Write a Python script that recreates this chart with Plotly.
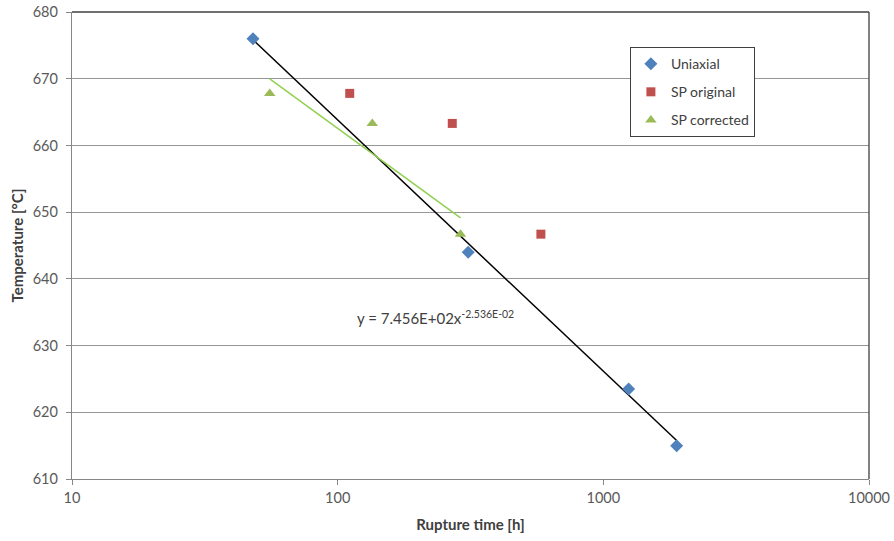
import numpy as np
import plotly.graph_objects as go

# ---- data ----
uni_time = [48, 310, 1245, 1888]
uni_temp = [676, 644, 623.5, 615]
spo_time = [111, 270, 582]
spo_temp = [667.8, 663.3, 646.7]
spc_time = [55.5, 135, 290]
spc_temp = [667.8, 663.3, 646.7]
x_ticks = [10, 100, 1000, 10000]
y_ticks = [610, 620, 630, 640, 650, 660, 670, 680]
equation = "y = 7.456E+02x<sup>-2.536E-02</sup>"


def power_fit(xs, ys):
    lx, ly = np.log(xs), np.log(ys)
    b, a = np.polyfit(lx, ly, 1)
    xr = np.array([min(xs), max(xs)])
    return xr, np.exp(a) * xr ** b


FONT = "Lato, 'Open Sans', Arial, sans-serif"
fig = go.Figure()

ux, uy = power_fit(uni_time, uni_temp)
cx, cy = power_fit(spc_time, spc_temp)
fig.add_trace(go.Scatter(x=ux, y=uy, mode="lines", line=dict(color="#000000", width=1.5),
                         showlegend=False, hoverinfo="skip"))
fig.add_trace(go.Scatter(x=cx, y=cy, mode="lines", line=dict(color="#92D050", width=1.5),
                         showlegend=False, hoverinfo="skip"))

fig.add_trace(go.Scatter(x=uni_time, y=uni_temp, mode="markers", name="Uniaxial",
                         legendgroup="a",
                         marker=dict(symbol="diamond", size=10, color="#4F81BD")))
fig.add_trace(go.Scatter(x=spo_time, y=spo_temp, mode="markers", name="SP original",
                         legendgroup="b",
                         marker=dict(symbol="square", size=9, color="#C0504D")))
fig.add_trace(go.Scatter(x=spc_time, y=spc_temp, mode="markers", name="SP corrected",
                         legendgroup="c",
                         marker=dict(symbol="triangle-up", size=10, color="#9BBB59")))

fig.add_annotation(text=equation, xref="paper", yref="paper", x=0.355, y=0.345,
                   xanchor="left", yanchor="middle", showarrow=False,
                   font=dict(family=FONT, size=15, color="#404040"))

# top / right frame
fig.add_shape(type="line", xref="paper", yref="paper", x0=0, x1=1, y0=1, y1=1,
              line=dict(color="#404040", width=1.3))
fig.add_shape(type="line", xref="paper", yref="paper", x0=1, x1=1, y0=0, y1=1,
              line=dict(color="#404040", width=1.3))

fig.update_layout(
    width=894, height=541,
    margin=dict(l=72, r=25, t=12, b=62),
    paper_bgcolor="white", plot_bgcolor="white",
    font=dict(family=FONT, size=14, color="#595959"),
    legend=dict(x=0.70, y=0.925, xanchor="left", yanchor="top",
                bgcolor="white", bordercolor="#404040", borderwidth=1,
                font=dict(family=FONT, size=14, color="#404040"),
                tracegroupgap=7, itemwidth=30),
    xaxis=dict(type="log", range=[1, 4], tickvals=x_ticks, ticktext=[str(v) for v in x_ticks],
               automargin=False,
               showgrid=False, zeroline=False, showline=True, linecolor="#868686", linewidth=1.3,
               ticks="outside", ticklen=5, tickcolor="#868686",
               tickfont=dict(family=FONT, size=14.5, color="#595959"),
               title=dict(text="<b>Rupture time [h]</b>", standoff=14,
                          font=dict(family=FONT, size=15, color="#404040"))),
    yaxis=dict(range=[610, 680], tickvals=y_ticks, showgrid=True, gridcolor="#969696",
               automargin=False, ticklabelstandoff=5,
               gridwidth=1.3, zeroline=False, showline=True, linecolor="#868686", linewidth=1.3,
               ticks="outside", ticklen=5, tickcolor="#868686",
               tickfont=dict(family=FONT, size=14.5, color="#595959"),
               title=dict(text="<b>Temperature [°C]</b>", standoff=5,
                          font=dict(family=FONT, size=15, color="#404040"))),
)

fig.write_html("out.html")
